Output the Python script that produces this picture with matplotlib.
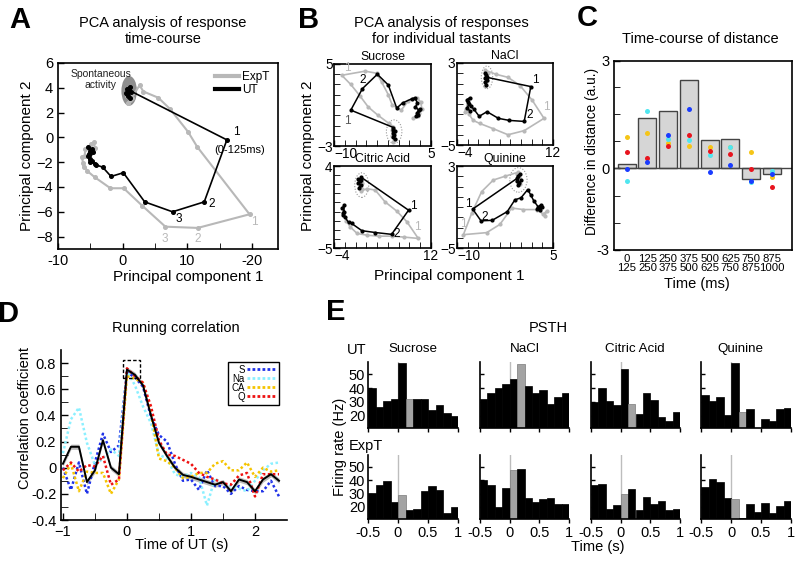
import numpy as np
import matplotlib
matplotlib.use('Agg')
import matplotlib.pyplot as plt
from matplotlib.patches import Ellipse, Rectangle
from matplotlib.lines import Line2D

plt.rcParams['font.family'] = ['Liberation Sans', 'DejaVu Sans']
plt.rcParams['font.size'] = 10
plt.rcParams['axes.linewidth'] = 1.2
plt.rcParams['xtick.direction'] = 'in'
plt.rcParams['ytick.direction'] = 'in'
plt.rcParams['xtick.major.width'] = 1.0
plt.rcParams['ytick.major.width'] = 1.0

# ---------------- DATA ----------------
# Panel A: PCA trajectories (UT black, ExpT gray)
a_ut_x = [0.7, 1.1, 0.6, 1.3, 0.8, 1.2, 0.5, 1.0, 16.1, 12.6, 7.7, 3.4, 0.1, -1.8, -3.1, -4.2,
          -4.35, -4.7, -5.1, -4.6, -5.2, -4.8, -5.4, -5.0, -5.3, -5.1]
a_ut_y = [3.9, 4.1, 3.5, 3.7, 3.3, 3.2, 3.6, 3.8, -0.2, -5.2, -6.0, -5.2, -2.85, -3.15, -2.4, -2.2,
          -2.15, -1.9, -1.75, -1.2, -1.35, -0.95, -0.75, -1.1, -1.5, -2.0]
a_ex_x = [0.8, 1.2, 0.7, 1.0, 1.4, 2.6, 3.2, 5.5, 7.3, 10.1, 11.5, 19.6, 11.6, 6.6, 3.0, 0.15,
          -1.9, -4.35, -5.5, -6.1, -6.0, -6.3, -5.9, -5.75, -4.9, -4.45, -4.3, -5.2]
a_ex_y = [2.8, 3.0, 3.3, 3.6, 3.2, 4.2, 3.7, 3.2, 2.3, 0.45, -0.75, -6.2, -7.3, -7.2, -5.5, -4.1,
          -4.1, -3.2, -2.7, -2.1, -2.4, -1.6, -1.5, -0.95, -0.55, -0.4, -0.85, -1.3]

# Panel B: per-tastant PCA trajectories
suc_ut_x = [-0.6, -0.9, -0.7, -0.8, -0.6, -0.9, -0.8, -7.4, -5.6, -3.3, -1.6, -0.3, 0.6, 2.0, 2.5,
            2.9, 2.6, 3.1, 2.8, 3.3, 3.0, 2.7]
suc_ut_y = [-2.3, -2.1, -1.9, -1.7, -1.5, -1.4, -1.2, 0.5, 2.6, 4.0, 2.95, 0.7, 1.2, 1.6, 1.7,
            1.2, 0.8, 0.5, 0.2, 0.6, 0.0, -0.1]
suc_ex_x = [-0.9, -0.6, -1.1, -0.7, -1.0, -0.8, -1.5, -3.2, -4.7, -6.0, -7.4, -8.8, -5.2, -3.4,
            -2.6, -1.6, -1.0, 0.4, 1.5, 2.8, 3.4, 3.6, 3.0, 2.2, 3.2]
suc_ex_y = [-2.6, -2.3, -2.0, -1.7, -1.4, -1.1, -0.8, 0.0, 0.8, 1.9, 3.0, 3.9, 4.3, 4.1, 3.2,
            2.0, 1.0, 0.5, 1.4, 1.7, 1.3, 0.6, -0.1, -0.3, 0.2]
nac_ut_x = [0.9, 0.6, 1.0, 0.7, 0.9, 0.6, 1.0, 8.3, 7.2, 4.7, 2.9, 1.0, -0.3, -1.2, -1.7, -2.2,
            -1.9, -2.4, -2.0, -2.3, -1.8]
nac_ut_y = [0.9, 1.1, 1.3, 1.5, 1.8, 2.0, 1.6, 0.7, -2.7, -2.6, -2.4, -1.75, -2.2, -1.5, -1.2, -0.8,
            -0.4, -0.6, -1.0, -1.4, -1.7]
nac_ex_x = [0.6, 1.0, 0.8, 1.2, 0.7, 2.5, 4.5, 6.5, 8.5, 10.5, 7.2, 4.5, 2.0, -0.2, -1.3, -2.0,
            -2.5, -2.2, -2.7]
nac_ex_y = [0.8, 1.2, 1.6, 2.0, 2.3, 1.9, 1.6, 0.8, -0.6, -2.4, -3.6, -4.0, -3.4, -2.9, -2.6, -2.0,
            -1.5, -1.0, -1.8]
cit_ut_x = [0.1, 0.4, -0.1, 0.3, 0.0, 0.5, 0.4, 8.3, 5.5, 2.8, 0.6, -1.1, -1.6, -2.2, -2.5, -2.3,
            -2.6, -2.3, -2.5]
cit_ut_y = [1.6, 1.9, 2.1, 2.3, 2.6, 2.5, 2.8, -0.85, -3.5, -3.3, -3.1, -2.3, -2.2, -1.6, -1.2, -1.0,
            -0.6, -0.3, -1.4]
cit_ex_x = [0.2, 0.6, 0.3, 0.7, 0.4, 1.5, 2.8, 4.4, 6.35, 8.0, 9.9, 7.5, 5.5, 3.5, 1.5, -0.2,
            -1.3, -2.0]
cit_ex_y = [2.4, 2.1, 1.8, 1.5, 1.3, 1.5, 1.36, 0.08, -0.95, -2.1, -3.95, -3.8, -3.7, -3.7, -3.6,
            -3.4, -2.7, -2.0]
qui_ut_x = [-0.4, 0.0, -0.3, -0.6, -0.2, -0.5, -0.6, -7.55, -6.25, -4.5, -2.15, -0.95, 0.0, 1.05,
            1.5, 2.0, 2.7, 3.1, 2.5, 3.3, 2.9]
qui_ut_y = [1.1, 1.6, 1.3, 1.5, 2.2, 2.0, 1.8, -1.2, -2.35, -2.3, -1.45, -0.3, -0.1, 0.7, 0.2, -0.4,
            -1.0, -0.8, -1.2, -1.0, -1.3]
qui_ex_x = [-0.2, -0.6, -0.3, -0.7, -0.4, -2.5, -4.33, -6.15, -7.7, -9.0, -5.36, -3.3, -1.45,
            0.36, 2.45, 3.5, 4.0, 3.7]
qui_ex_y = [1.2, 1.5, 1.9, 2.2, 2.4, 2.0, 1.63, 0.5, -1.6, -3.7, -3.5, -2.7, -1.1, -1.25, -1.25,
            -1.7, -1.4, -1.9]

# Panel C: time-course of distance
c_bins = ['0\n125', '125\n250', '250\n375', '375\n500', '500\n625', '625\n750', '750\n875', '875\n1000']
c_bar = [0.18, 1.87, 2.11, 3.24, 1.04, 1.10, -0.39, -0.20]
c_S = [-0.02, 0.22, 1.23, 2.20, -0.12, 0.13, -0.45, -0.21]
c_Na = [-0.45, 2.11, 1.07, 1.05, 0.49, 0.79, -0.51, -0.09]
c_CA = [1.16, 1.29, 0.93, 0.83, 0.77, 0.78, 0.59, -0.33]
c_Q = [0.62, 0.37, 0.83, 1.22, 0.65, 0.52, -0.02, -0.67]

# Panel D: running correlation
d_t = [-1.0, -0.875, -0.75, -0.625, -0.5, -0.375, -0.25, -0.125, 0.0, 0.125, 0.25, 0.375, 0.5,
       0.625, 0.75, 0.875, 1.0, 1.125, 1.25, 1.375, 1.5, 1.625, 1.75, 1.875, 2.0, 2.125, 2.25, 2.375]
d_mean = [0.03, 0.16, 0.16, -0.11, -0.02, 0.21, 0.0, -0.05, 0.75, 0.71, 0.63, 0.40, 0.19, 0.09,
          0.0, -0.055, -0.07, -0.09, -0.11, -0.13, -0.11, -0.18, -0.09, -0.11, -0.18, -0.09, -0.05, -0.10]
d_S = [0.0, -0.17, 0.04, -0.20, 0.04, 0.26, 0.12, 0.17, 0.73, 0.69, 0.62, 0.39, 0.25, 0.20, 0.03,
       -0.10, -0.09, -0.17, -0.02, -0.14, -0.14, -0.20, -0.14, -0.17, -0.18, -0.18, -0.10, -0.22]
d_Na = [0.11, 0.37, 0.46, 0.19, 0.02, 0.07, 0.14, 0.09, 0.74, 0.63, 0.47, 0.34, 0.10, 0.07, -0.05,
        -0.07, -0.04, -0.07, -0.29, -0.08, -0.13, -0.14, -0.16, -0.18, -0.10, -0.02, 0.03, 0.04]
d_CA = [-0.08, 0.03, -0.18, -0.03, -0.04, -0.04, -0.20, -0.09, 0.70, 0.68, 0.65, 0.42, 0.07, 0.05,
        0.0, -0.08, -0.07, -0.04, -0.04, 0.03, 0.05, -0.02, -0.02, 0.04, -0.07, 0.0, -0.03, -0.02]
d_Q = [-0.02, 0.04, -0.03, 0.02, 0.01, 0.09, -0.13, -0.09, 0.76, 0.70, 0.65, 0.47, 0.21, 0.10, 0.09,
       0.06, 0.03, -0.04, -0.07, -0.09, -0.12, -0.13, -0.06, -0.04, -0.22, -0.05, -0.05, -0.05]
d_sem = 0.02

# Panel E: PSTH (12 bins of 125 ms from -0.5 s)
e_tastes = ['Sucrose', 'NaCl', 'Citric Acid', 'Quinine']
e_ut = [
    [40, 26.25, 30.75, 31.75, 58.25, 31.75, 31.75, 31.75, 24.25, 27.5, 21.75, 19.5],
    [31.75, 36.25, 40, 43.25, 46.75, 57.5, 41.75, 36.75, 38.75, 28.75, 33.75, 36.25],
    [30, 40, 30.75, 27.5, 54.25, 28.75, 21.25, 36.75, 31.25, 19.25, 15.75, 22.5],
    [35, 30.75, 33.75, 20.75, 58.25, 22.5, 24.5, 11, 17.5, 16.25, 24.5, 25.25],
]
e_ex = [
    [30.5, 36.75, 39.25, 23.5, 29.25, 17.5, 18.75, 31.75, 35.5, 33, 15.5, 19.75],
    [40, 36.25, 20, 34.25, 47.5, 48.5, 26.75, 23.5, 26, 26.75, 22.25, 22.25],
    [36.25, 37.5, 18.25, 21.25, 29.5, 33.75, 17.5, 27.5, 22, 24.25, 17.5, 18.25],
    [35, 41.25, 38.5, 26.75, 26, 11.5, 22.5, 16, 23, 15.5, 20.5, 24.25],
]
e_ut_gray = 5
e_ex_gray = 4

# ---------------- FIGURE ----------------
W, H = 800, 561
fig = plt.figure(figsize=(8, 5.61), dpi=100)


def ax_px(x0, y0, x1, y1):
    return fig.add_axes([x0 / W, 1 - y1 / H, (x1 - x0) / W, (y1 - y0) / H])


def ftext(x, y, s, **kw):
    fig.text(x / W, 1 - y / H, s, **kw)


GRAY = '#b8b8b8'

# Panel letters
for lab, (x, y) in zip('ABCDE', [(20, 20), (309, 20), (587, 18), (9, 314), (336, 312)]):
    ftext(x, y, lab, ha='center', va='center', fontsize=21, weight='bold')

# ---- A ----
axA = ax_px(58, 63, 278, 249)
axA.add_patch(Ellipse((1.0, 3.75), 2.4, 2.4, facecolor='#8e8e8e', edgecolor='none', zorder=1))
axA.plot(a_ex_x, a_ex_y, '-o', color=GRAY, lw=1.5, ms=2.6, zorder=2)
axA.plot(a_ut_x, a_ut_y, '-o', color='black', lw=1.2, ms=2.6, zorder=3)
axA.set_xlim(-10, 24)
axA.set_ylim(-9, 6)
axA.set_xticks([-10, 0, 10, 20])
axA.set_xticklabels(['-10', '0', '10', '-20'])
axA.set_xticks([-5, 5, 15], minor=True)
axA.set_yticks([-8, -6, -4, -2, 0, 2, 4, 6])
axA.tick_params(labelsize=10.5, length=4)
axA.tick_params(which='minor', length=4)
axA.text(17.5, 0.45, '1', fontsize=8.5, ha='center', va='center')
axA.text(18.0, -1.0, '(0-125ms)', fontsize=8, ha='center', va='center')
axA.text(13.8, -5.4, '2', fontsize=8.5, ha='center', va='center')
axA.text(8.6, -6.6, '3', fontsize=8.5, ha='center', va='center')
axA.text(20.3, -6.8, '1', fontsize=8.5, ha='center', va='center', color=GRAY)
axA.text(11.6, -8.2, '2', fontsize=8.5, ha='center', va='center', color=GRAY)
axA.text(6.5, -8.2, '3', fontsize=8.5, ha='center', va='center', color=GRAY)
axA.text(-3.4, 4.7, 'Spontaneous\nactivity', fontsize=7.5, ha='center', va='center',
         linespacing=1.15, color='#222222')
axA.legend(handles=[Line2D([], [], color=GRAY, lw=3), Line2D([], [], color='black', lw=3)],
           labels=['ExpT', 'UT'], loc='upper right', frameon=False, fontsize=8.5,
           handlelength=2.0, handletextpad=0.3, labelspacing=0.1, borderaxespad=0.3)
ftext(163, 31, 'PCA analysis of response\ntime-course', ha='center', va='center',
      fontsize=10.5, linespacing=1.1)
ftext(188, 277, 'Principal component 1', ha='center', va='center', fontsize=11)
ftext(27, 156, 'Principal component 2', ha='center', va='center', fontsize=11, rotation=90)

# ---- B ----
b_specs = [
    ('Sucrose', (334, 64, 431, 146), (-10, 5), (-3, 5), suc_ut_x, suc_ut_y, suc_ex_x, suc_ex_y,
     (-0.7, -1.6, 2.4, 2.3),
     [(-8.0, 4.58, '1', GRAY), (-5.56, 3.44, '2', 'black'), (-7.9, -0.56, '1', '#555555')]),
    ('NaCl', (457, 63, 553, 145), (-4, 12), (-5, 3), nac_ut_x, nac_ut_y, nac_ex_x, nac_ex_y,
     (1.0, 1.6, 1.9, 2.2),
     [(9.0, 1.34, '1', 'black'), (8.17, -2.07, '2', 'black'), (10.95, -1.3, '1', GRAY)]),
    ('Citric Acid', (334, 166, 431, 248), (-4, 12), (-5, 4), cit_ut_x, cit_ut_y, cit_ex_x, cit_ex_y,
     (0.57, 1.9, 2.3, 2.7),
     [(9.1, -0.36, '1', 'black'), (6.35, -3.47, '2', 'black'), (9.75, -2.67, '1', GRAY)]),
    ('Quinine', (457, 166, 553, 248), (-10, 5), (-5, 3), qui_ut_x, qui_ut_y, qui_ex_x, qui_ex_y,
     (-0.4, 1.64, 2.7, 2.4),
     [(-8.2, -0.74, '1', 'black'), (-5.6, -1.94, '2', 'black'), (-9.0, -2.7, '1', GRAY)]),
]
for name, box, xl, yl, ux, uy, ex, ey, ell, labs in b_specs:
    ax = ax_px(*box)
    ax.add_patch(Ellipse(ell[:2], ell[2], ell[3], fill=False, ls=(0, (1, 1.5)), ec='#999999',
                         lw=0.8, zorder=1))
    ax.plot(ex, ey, '-o', color=GRAY, lw=1.2, ms=2.0, zorder=2)
    ax.plot(ux, uy, '-o', color='black', lw=1.1, ms=2.0, zorder=3)
    ax.set_xlim(*xl)
    ax.set_ylim(*yl)
    ax.set_xticks(list(xl))
    ax.set_yticks(list(yl))
    ax.set_xticks(np.linspace(xl[0], xl[1], 10)[1:-1], minor=True)
    ax.set_yticks(np.arange(yl[0] + 1, yl[1]), minor=True)
    ax.tick_params(labelsize=9.8, length=4, pad=1)
    ax.tick_params(axis='x', pad=0.5)
    ax.tick_params(which='minor', length=4)
    ax.get_xticklabels()[0].set_horizontalalignment('left')
    for x, y, s, c in labs:
        ax.text(x, y, s, color=c, fontsize=8.5, ha='center', va='center')
    ftext((box[0] + box[2]) / 2, box[1] - 7, name, ha='center', va='center', fontsize=8.8)
ftext(441, 31, 'PCA analysis of responses\nfor individual tastants', ha='center', va='center',
      fontsize=10.5, linespacing=1.1)
ftext(449, 276, 'Principal component 1', ha='center', va='center', fontsize=11)
ftext(308, 156, 'Principal component 2', ha='center', va='center', fontsize=11, rotation=90)

# ---- C ----
axC = ax_px(614, 61, 792, 250)
xc = np.arange(len(c_bar))
axC.bar(xc, c_bar, width=0.87, color='#d6d6d6', edgecolor='#444444', lw=1.0, zorder=1)
axC.axhline(0, color='#444444', lw=1.0, zorder=2)
for vals, col in [(c_CA, '#f5c518'), (c_Na, '#50e6f0'), (c_Q, '#e8141e'), (c_S, '#1a3cff')]:
    axC.plot(xc, vals, 'o', color=col, ms=3.6, mec='none', zorder=3)
axC.set_xlim(-0.61, 7.97)
axC.set_ylim(-3, 3.95)
axC.set_yticks([-3, 0, 3.95])
axC.set_yticklabels(['-3', '0', '3'])
axC.set_yticks([-2, -1, 1, 2, 3], minor=True)
axC.set_xticks(xc)
axC.set_xticklabels(c_bins, fontsize=8.2, linespacing=0.9)
axC.tick_params(axis='x', length=0, pad=3)
axC.tick_params(axis='y', labelsize=10.5, length=4)
axC.tick_params(which='minor', length=4)
ftext(700, 39, 'Time-course of distance', ha='center', va='center', fontsize=10.5)
ftext(697, 284, 'Time (ms)', ha='center', va='center', fontsize=10.5)
ftext(592, 151, 'Difference in distance (a.u.)', ha='center', va='center', fontsize=9.8,
      rotation=90)

# ---- D ----
axD = ax_px(61, 350, 287, 520)
dm = np.array(d_mean)
axD.fill_between(d_t, dm - d_sem, dm + d_sem, color='#bdbdbd', lw=0, zorder=1)
dcols = ['#1f32e8', '#8cf0ff', '#f5c400', '#ee1111']
for vals, col in zip([d_S, d_Na, d_CA, d_Q], dcols):
    axD.plot(d_t, vals, color=col, lw=1.8, ls=(0, (1, 1)), zorder=2)
axD.plot(d_t, d_mean, color='black', lw=1.4, zorder=3)
axD.add_patch(Rectangle((-0.06, 0.685), 0.26, 0.135, fill=False, ls=(0, (2.5, 1.5)), lw=1.0,
                        ec='black', zorder=4))
axD.set_xlim(-1.03, 2.5)
axD.set_ylim(-0.4, 0.9)
axD.spines['top'].set_visible(False)
axD.spines['right'].set_visible(False)
axD.set_xticks([-1, 0, 1, 2])
axD.set_xticks([-0.5, 0.5, 1.5], minor=True)
axD.set_yticks([-0.4, -0.2, 0, 0.2, 0.4, 0.6, 0.8])
axD.set_yticklabels(['-0.4', '-0.2', '0', '0.2', '0.4', '0.6', '0.8'])
axD.set_yticks(np.arange(-0.3, 0.9, 0.2), minor=True)
axD.tick_params(labelsize=10.5, length=5)
axD.tick_params(which='minor', length=5)
leg = axD.legend(handles=[Line2D([], [], color=c, lw=2, ls=(0, (1, 0.8))) for c in dcols],
                 labels=['S', 'Na', 'CA', 'Q'], loc='upper right', bbox_to_anchor=(0.985, 0.96),
                 markerfirst=False, fontsize=7, handlelength=3.0, handletextpad=0.2,
                 labelspacing=-0.1, borderpad=0.3, fancybox=False, edgecolor='black',
                 framealpha=1)
leg.get_frame().set_linewidth(1.0)
ftext(176, 328, 'Running correlation', ha='center', va='center', fontsize=10.5)
ftext(182, 545, 'Time of UT (s)', ha='center', va='center', fontsize=10.5)
ftext(25, 418, 'Correlation coefficient', ha='center', va='center', fontsize=10.5, rotation=90)

# ---- E ----
col_x = [(368, 458), (480, 569), (591, 680), (701, 791)]
row_y = [(362, 428), (455, 519)]
left_edges = np.arange(-0.5, 1.0, 0.125)
centers = left_edges + 0.0625
for j, (x0, x1) in enumerate(col_x):
    for r, (y0, y1) in enumerate(row_y):
        ax = ax_px(x0, y0, x1, y1)
        vals = e_ut[j] if r == 0 else e_ex[j]
        gi = e_ut_gray if r == 0 else e_ex_gray
        cols = ['black'] * len(vals)
        cols[gi] = '#a3a3a3'
        ecols = ['black'] * len(vals)
        ecols[gi] = '#7a7a7a'
        ax.axvline(0, color='#bdbdbd', lw=1.0, zorder=0)
        ax.bar(centers, vals, width=0.125, color=cols, edgecolor=ecols, lw=0.5, zorder=2)
        ax.set_xlim(-0.5, 1.0)
        ax.set_ylim(11, 59)
        ax.spines['top'].set_visible(False)
        ax.spines['right'].set_visible(False)
        ax.set_yticks([20, 30, 40, 50])
        ax.set_xticks([-0.5, 0, 0.5, 1])
        ax.set_xticklabels(['-0.5', '0', '0.5', '1'])
        ax.tick_params(axis='y', length=3, labelsize=10.5, pad=2, labelleft=(j == 0))
        ax.tick_params(axis='x', direction='out', length=3, labelsize=10.5, pad=2,
                       labelbottom=(r == 1))
    ftext([413, 525, 635, 740][j], 349, e_tastes[j], ha='center', va='center', fontsize=9.6)
ftext(548, 328, 'PSTH', ha='center', va='center', fontsize=10.5)
ftext(347, 350, 'UT', ha='left', va='center', fontsize=10.5)
ftext(349, 446, 'ExpT', ha='left', va='center', fontsize=10.5)
ftext(340, 447, 'Firing rate (Hz)', ha='center', va='center', fontsize=10.5, rotation=90)
ftext(598, 547, 'Time (s)', ha='center', va='center', fontsize=10.5)

fig.savefig('out.png', dpi=100)
